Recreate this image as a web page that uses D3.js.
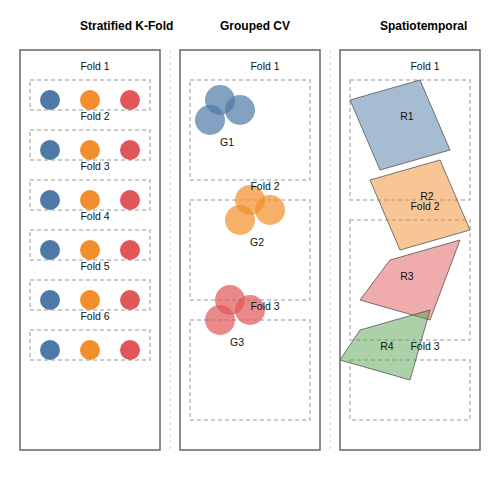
<!DOCTYPE html>
<html><head><meta charset="utf-8">
<script src="https://cdn.jsdelivr.net/npm/d3@7.9.0/dist/d3.min.js"></script>
<style>body{margin:0;background:#fff}text{font-family:"Liberation Sans",Arial,sans-serif}</style>
</head><body><svg id="c" width="500" height="500"></svg>
<script>
const titles = ['Stratified K-Fold', 'Grouped CV', 'Spatiotemporal'];
const classColors = ['#4e79a7', '#f28e2b', '#e15759', '#59a14f'];
const kFolds = [1, 2, 3, 4, 5, 6];
const classPos = [0, 1, 2];
const groups = ['G1', 'G2', 'G3'];
const groupBase = [[20, 5], [23, 15], [21, 25]];
const groupPts = [[0, 0], [-1, 2], [2, 1]];
const regions = ['R1', 'R2', 'R3', 'R4'];
const regionPts = [
  [[1, 2], [8, 0], [11, 7], [4, 9]],
  [[3, 10], [10, 8], [13, 15], [6, 17]],
  [[5, 18], [12, 16], [9, 24], [2, 22]],
  [[2, 25], [9, 23], [7, 30], [0, 28]]
];
const regionLabel = [[38.7, 7], [40.7, 15], [38.7, 23], [36.7, 30]];
const spatialFolds = [[0, 12], [14, 26], [28, 34]];

const svg = d3.select('#c');
const x = d3.scaleLinear().domain([0, 48]).range([20, 500]); // 10px per unit
const y = d3.scaleLinear().domain([0, 40]).range([50, 450]);

titles.forEach((t, i) => {
  svg.append('text').attr('x', x(i * 16 + (i === 0 ? 6 : 4))).attr('y', 30)
    .attr('font-size', 12).attr('font-weight', 'bold').text(t);
  svg.append('rect').attr('x', x(i * 16)).attr('y', y(0))
    .attr('width', x(14) - x(0)).attr('height', y(40) - y(0))
    .attr('fill', 'none').attr('stroke', '#666').attr('stroke-width', 1.5);
  if (i < 2) svg.append('line').attr('x1', x(i * 16 + 15)).attr('x2', x(i * 16 + 15))
    .attr('y1', y(0)).attr('y2', y(40)).attr('stroke', '#ccc').attr('stroke-dasharray', '3,3');
});

function dashRect(x0, y0, x1, y1) {
  svg.append('rect').attr('x', x(x0)).attr('y', y(y0)).attr('width', x(x1) - x(x0))
    .attr('height', y(y1) - y(y0)).attr('fill', 'none').attr('stroke', '#bbb')
    .attr('stroke-width', 1.5).attr('stroke-dasharray', '4,3');
}
function label(t, xv, yv) {
  svg.append('text').attr('x', x(xv)).attr('y', y(yv)).attr('text-anchor', 'middle')
    .attr('font-size', 10.5).attr('fill', '#111').text(t);
}

// Stratified
kFolds.forEach((k, i) => {
  dashRect(1, 3 + i * 5, 13, 6 + i * 5);
  label('Fold ' + k, 7.5, 2 + i * 5);
  classPos.forEach(c => {
    svg.append('circle').attr('cx', x(3 + c * 4)).attr('cy', y(5 + i * 5)).attr('r', 10)
      .attr('fill', classColors[c]);
  });
});

// Grouped
groups.forEach((g, i) => {
  dashRect(17, 3 + i * 12, 29, 13 + i * 12);
  const [bx, by] = groupBase[i];
  groupPts.forEach(p => {
    svg.append('circle').attr('cx', x(bx + p[0])).attr('cy', y(by + p[1])).attr('r', 15)
      .attr('fill', classColors[i]).attr('opacity', 0.7);
  });
  label(g, bx + 0.7, by + 4.6);
});
groups.forEach((g, i) => label('Fold ' + (i + 1), 24.5, 2 + i * 12));

// Spatiotemporal
spatialFolds.forEach(f => dashRect(33, 3 + f[0], 45, 3 + f[1]));
const line = d3.line().x(p => x(32 + p[0])).y(p => y(3 + p[1]));
regions.forEach((r, i) => {
  svg.append('path').attr('d', line(regionPts[i]) + 'Z').attr('fill', classColors[i])
    .attr('fill-opacity', 0.5).attr('stroke', '#555').attr('stroke-width', 0.8);
});
regions.forEach((r, i) => label(r, regionLabel[i][0], regionLabel[i][1]));
spatialFolds.forEach((f, i) => label('Fold ' + (i + 1), 40.5, 2 + f[0]));
</script></body></html>
